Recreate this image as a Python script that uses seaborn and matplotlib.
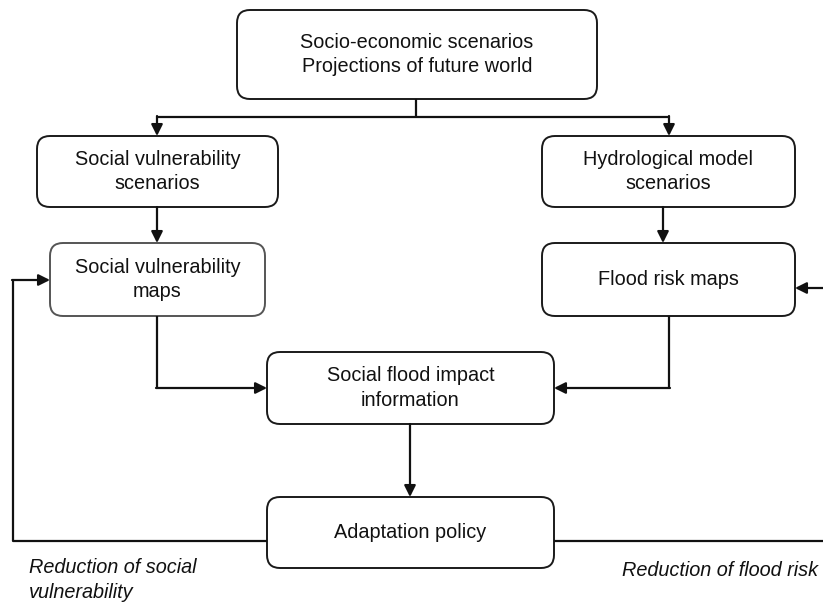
"""
Flow chart: from socio-economic scenarios to adaptation policy.
"""
import matplotlib.pyplot as plt
import seaborn as sns
from matplotlib.patches import FancyBboxPatch

# Box labels
top_label = "Socio-economic scenarios\nProjections of future world"
svs_label = "Social vulnerability\nscenarios"
hms_label = "Hydrological model\nscenarios"
svm_label = "Social vulnerability\nmaps"
frm_label = "Flood risk maps"
impact_label = "Social flood impact\ninformation"
policy_label = "Adaptation policy"

# Feedback loop labels
left_note = "Reduction of social\nvulnerability"
right_note = "Reduction of flood risk"


def draw_box(ax, x0, y0, x1, y1, text, edge="#1a1a1a"):
    box = FancyBboxPatch((x0, y0), x1 - x0, y1 - y0,
                         boxstyle="round,pad=0,rounding_size=13",
                         facecolor="white", edgecolor=edge, linewidth=1.4)
    ax.add_patch(box)
    ax.text((x0 + x1) / 2, (y0 + y1) / 2, text, ha="center", va="center",
            fontsize=14.3, linespacing=1.38, color="#111111")


def arrow(ax, start, end):
    ax.annotate("", xy=end, xytext=start,
                arrowprops=dict(arrowstyle="-|>", color="#111111", lw=1.6,
                                mutation_scale=17, shrinkA=0, shrinkB=0))


def line(ax, xs, ys):
    ax.plot(xs, ys, color="#111111", lw=1.6, solid_capstyle="butt")


def main():
    sns.set_theme(style="white")
    plt.rcParams['font.family'] = ['Liberation Sans', 'DejaVu Sans']

    fig = plt.figure(figsize=(8.23, 6.03), dpi=100)
    ax = fig.add_axes([0, 0, 1, 1])
    ax.set_xlim(0, 823)
    ax.set_ylim(603, 0)
    ax.axis("off")

    draw_box(ax, 237, 10, 597, 99, top_label)
    draw_box(ax, 37, 136, 278, 207, svs_label)
    draw_box(ax, 542, 136, 795, 207, hms_label)
    draw_box(ax, 50, 243, 265, 316, svm_label, edge="#555555")
    draw_box(ax, 542, 243, 795, 316, frm_label)
    draw_box(ax, 267, 352, 554, 424, impact_label)
    draw_box(ax, 267, 497, 554, 568, policy_label)

    # top split
    line(ax, [416, 416], [99, 117])
    line(ax, [157, 669], [117, 117])
    arrow(ax, (157, 116), (157, 136))
    arrow(ax, (669, 116), (669, 136))

    # scenarios to maps
    arrow(ax, (157, 207), (157, 243))
    arrow(ax, (663, 207), (663, 243))

    # maps to impact
    line(ax, [157, 157], [316, 388])
    arrow(ax, (156, 388), (267, 388))
    line(ax, [669, 669], [316, 388])
    arrow(ax, (670, 388), (554, 388))

    # impact to policy
    arrow(ax, (410, 424), (410, 497))

    # feedback loops
    line(ax, [267, 13, 13], [541, 541, 280])
    arrow(ax, (12, 280), (50, 280))
    line(ax, [554, 823], [541, 541])
    arrow(ax, (823, 288), (795, 288))

    ax.text(29, 580, left_note, ha="left", va="center", fontsize=14.3,
            style="italic", linespacing=1.38, color="#111111")
    ax.text(818, 570, right_note, ha="right", va="center", fontsize=14.3,
            style="italic", color="#111111")

    fig.savefig("out.png", dpi=100)


if __name__ == "__main__":
    main()
